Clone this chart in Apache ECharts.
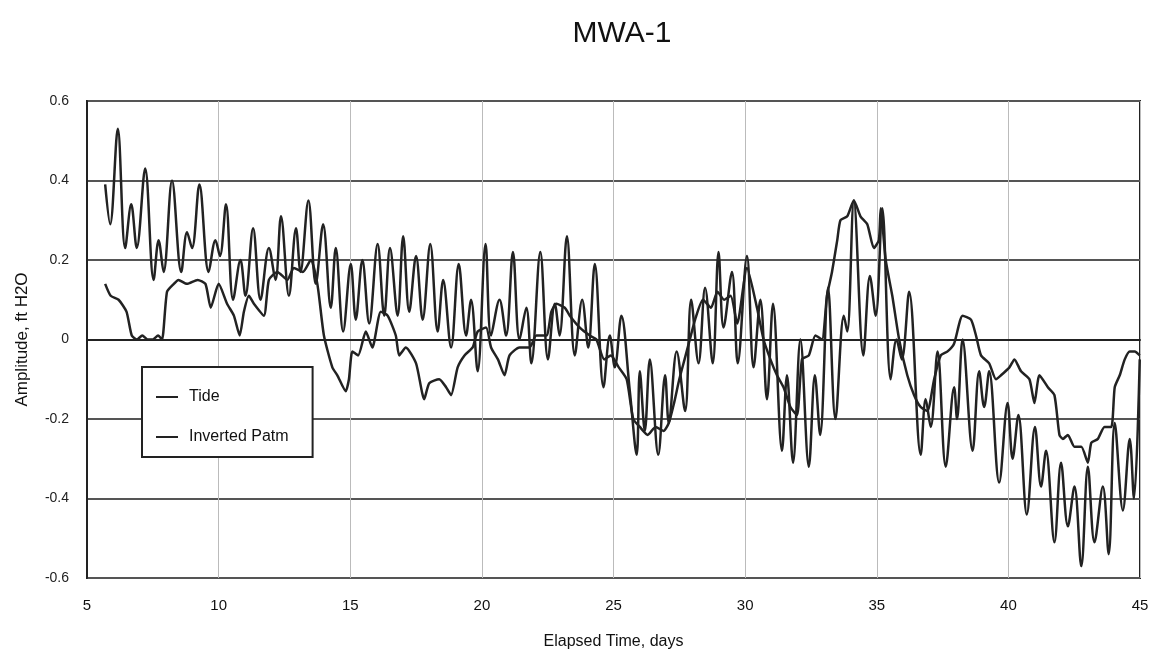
<!DOCTYPE html>
<html>
<head>
<meta charset="utf-8">
<script src="https://cdn.jsdelivr.net/npm/echarts@6/dist/echarts.min.js"></script>
<style>
html,body{margin:0;padding:0;background:#fff;}
#chart{width:1160px;height:655px;}
</style>
</head>
<body>
<div id="chart"></div>
<script>
const titleText = 'MWA-1';
const xAxisName = 'Elapsed Time, days';
const yAxisName = 'Amplitude, ft H2O';
const seriesNames = ['Tide', 'Inverted Patm'];

const tideDays = [5.69,5.88,6.17,6.45,6.68,6.89,7.21,7.53,7.72,7.91,8.23,8.58,8.80,8.99,9.27,9.62,9.88,10.05,10.28,10.55,10.83,11.02,11.31,11.59,11.91,12.16,12.37,12.67,12.94,13.11,13.41,13.69,13.97,14.26,14.45,14.73,15.02,15.21,15.46,15.72,16.04,16.29,16.51,16.80,17.01,17.24,17.50,17.75,18.04,18.32,18.53,18.83,19.12,19.40,19.59,19.84,20.14,20.35,20.67,20.92,21.18,21.43,21.69,21.88,22.22,22.51,22.77,22.95,23.23,23.53,23.81,24.04,24.29,24.62,24.86,25.05,25.30,25.62,25.88,26.00,26.19,26.38,26.70,26.96,27.10,27.40,27.72,27.95,28.23,28.48,28.77,28.99,29.18,29.50,29.72,30.07,30.32,30.58,30.83,31.06,31.40,31.59,31.82,32.10,32.42,32.65,32.85,33.15,33.43,33.75,33.88,34.13,34.49,34.74,34.96,35.21,35.53,35.75,35.95,36.23,36.67,36.86,37.05,37.31,37.62,37.94,38.05,38.26,38.64,38.89,39.08,39.27,39.65,39.97,40.16,40.38,40.70,41.01,41.24,41.43,41.75,42.00,42.26,42.51,42.77,43.02,43.27,43.59,43.81,44.04,44.35,44.61,44.77,44.99];
const tideVals = [0.39,0.29,0.53,0.23,0.34,0.23,0.43,0.15,0.25,0.17,0.40,0.17,0.27,0.23,0.39,0.17,0.25,0.21,0.34,0.10,0.20,0.11,0.28,0.10,0.23,0.15,0.31,0.11,0.28,0.17,0.35,0.14,0.29,0.08,0.23,0.02,0.19,0.05,0.20,0.04,0.24,0.06,0.23,0.06,0.26,0.07,0.21,0.05,0.24,0.02,0.15,-0.02,0.19,0.01,0.10,-0.08,0.24,0.01,0.10,0.01,0.22,0.00,0.08,-0.06,0.22,-0.05,0.09,0.01,0.26,-0.04,0.10,-0.02,0.19,-0.12,0.01,-0.07,0.06,-0.13,-0.29,-0.08,-0.23,-0.05,-0.29,-0.09,-0.21,-0.03,-0.18,0.10,-0.06,0.13,-0.06,0.22,0.03,0.17,-0.06,0.21,-0.07,0.10,-0.15,0.09,-0.28,-0.09,-0.31,0.00,-0.32,-0.09,-0.24,0.13,-0.20,0.06,0.02,0.35,-0.04,0.16,0.06,0.33,-0.10,0.00,-0.05,0.12,-0.29,-0.15,-0.22,-0.03,-0.32,-0.12,-0.20,0.00,-0.28,-0.08,-0.17,-0.08,-0.36,-0.16,-0.30,-0.19,-0.44,-0.22,-0.37,-0.28,-0.51,-0.31,-0.47,-0.37,-0.57,-0.32,-0.51,-0.37,-0.54,-0.21,-0.43,-0.25,-0.40,-0.05];

const patmDays = [5.69,5.90,6.20,6.50,6.70,6.90,7.10,7.30,7.50,7.70,7.85,8.04,8.30,8.47,8.80,9.20,9.50,9.70,10.00,10.32,10.58,10.80,10.96,11.15,11.34,11.72,11.91,12.23,12.61,12.86,13.20,13.50,13.75,14.00,14.32,14.51,14.83,14.95,15.08,15.30,15.59,15.84,16.16,16.42,16.73,16.86,17.11,17.50,17.81,18.00,18.38,18.64,18.83,19.08,19.34,19.65,19.84,20.16,20.35,20.61,20.86,21.05,21.43,21.81,22.07,22.45,22.64,22.83,23.15,23.34,23.72,24.10,24.35,24.65,24.90,25.20,25.50,25.75,26.00,26.30,26.60,26.90,27.10,27.30,27.50,27.70,27.90,28.10,28.40,28.70,28.95,29.20,29.45,29.70,30.07,30.45,30.70,30.96,31.21,31.46,31.72,31.97,32.16,32.42,32.67,32.92,33.11,33.30,33.50,33.62,33.88,34.13,34.38,34.64,34.89,35.08,35.15,35.34,35.59,35.85,36.16,36.42,36.67,36.92,37.18,37.43,37.69,37.94,38.26,38.58,38.77,38.96,39.27,39.53,39.72,40.04,40.23,40.48,40.80,40.99,41.18,41.50,41.75,41.94,42.07,42.26,42.51,42.77,43.02,43.15,43.40,43.65,43.91,44.04,44.23,44.42,44.61,44.80,44.99];
const patmVals = [0.14,0.11,0.10,0.07,0.01,0.00,0.01,0.00,0.00,0.01,0.00,0.12,0.14,0.15,0.14,0.15,0.14,0.08,0.14,0.09,0.06,0.01,0.07,0.11,0.09,0.06,0.15,0.17,0.15,0.18,0.17,0.20,0.14,0.01,-0.07,-0.09,-0.13,-0.10,-0.03,-0.04,0.02,-0.02,0.07,0.06,0.01,-0.04,-0.02,-0.06,-0.15,-0.11,-0.10,-0.12,-0.14,-0.07,-0.04,-0.02,0.02,0.03,-0.02,-0.05,-0.09,-0.04,-0.02,-0.02,0.01,0.01,0.07,0.09,0.08,0.06,0.03,0.01,0.00,-0.05,-0.04,-0.07,-0.10,-0.20,-0.22,-0.24,-0.22,-0.23,-0.21,-0.16,-0.10,-0.05,0.00,0.05,0.10,0.08,0.12,0.10,0.11,0.04,0.18,0.08,0.00,-0.05,-0.09,-0.12,-0.17,-0.19,-0.05,-0.04,0.01,0.00,0.11,0.17,0.25,0.30,0.31,0.35,0.31,0.29,0.23,0.25,0.33,0.20,0.11,0.00,-0.09,-0.14,-0.17,-0.18,-0.10,-0.04,-0.03,-0.01,0.06,0.05,0.01,-0.04,-0.06,-0.10,-0.09,-0.07,-0.05,-0.08,-0.10,-0.16,-0.09,-0.12,-0.14,-0.24,-0.25,-0.24,-0.27,-0.27,-0.31,-0.26,-0.25,-0.22,-0.22,-0.12,-0.09,-0.05,-0.03,-0.03,-0.04];

const xTicks = {min: 5, max: 45, interval: 5};
const yTicks = {min: -0.6, max: 0.6, interval: 0.2};

function zip(a, b) { return a.map((d, i) => [d, b[i]]); }

const font = 'Liberation Sans, Arial, sans-serif';
const chart = echarts.init(document.getElementById('chart'), null, {renderer: 'canvas'});
chart.setOption({
  animation: false,
  backgroundColor: '#ffffff',
  title: {
    text: titleText,
    left: 617, top: 14, textAlign: 'center',
    textStyle: {fontFamily: font, fontSize: 30, fontWeight: 'normal', color: '#111'}
  },
  legend: {
    orient: 'vertical',
    left: 142, top: 367,
    backgroundColor: '#fff',
    borderColor: '#222', borderWidth: 2,
    padding: [22, 24, 12, 14],
    itemGap: 24,
    icon: 'rect',
    itemWidth: 22, itemHeight: 2,
    textStyle: {fontFamily: font, fontSize: 16, color: '#111', padding: [0, 0, 0, 6]},
    data: seriesNames
  },
  grid: {
    left: 87, right: 20, top: 101, bottom: 77,
    show: true, borderColor: '#222', borderWidth: 2, backgroundColor: 'transparent'
  },
  xAxis: {
    type: 'value',
    min: xTicks.min, max: xTicks.max, interval: xTicks.interval,
    name: xAxisName, nameLocation: 'middle', nameGap: 56,
    nameTextStyle: {fontFamily: font, fontSize: 16, color: '#111'},
    axisLine: {show: true, lineStyle: {color: '#222', width: 2}},
    axisTick: {show: false},
    axisLabel: {fontFamily: font, fontSize: 15, color: '#111', margin: 20},
    splitLine: {show: true, lineStyle: {color: '#bbbbbb', width: 1}}
  },
  yAxis: {
    type: 'value',
    min: yTicks.min, max: yTicks.max, interval: yTicks.interval,
    name: yAxisName, nameLocation: 'middle', nameGap: 56,
    nameTextStyle: {fontFamily: font, fontSize: 17, color: '#111'},
    axisLine: {show: true, lineStyle: {color: '#222', width: 2}},
    axisTick: {show: false},
    axisLabel: {fontFamily: font, fontSize: 14, color: '#222', margin: 18,
      formatter: v => (Math.abs(v) < 1e-9 ? '0' : (Math.round(v * 10) / 10).toString())},
    splitLine: {show: true, lineStyle: {color: '#555555', width: 2}}
  },
  series: [
    {
      name: seriesNames[0], type: 'line', data: zip(tideDays, tideVals),
      symbol: 'none', smooth: 0.35,
      lineStyle: {color: '#222', width: 2.5}, itemStyle: {color: '#222'}, z: 3
    },
    {
      name: seriesNames[1], type: 'line', data: zip(patmDays, patmVals),
      symbol: 'none', smooth: 0.2,
      lineStyle: {color: '#222', width: 2.5}, itemStyle: {color: '#222'}, z: 2
    }
  ]
});
</script>
</body>
</html>
